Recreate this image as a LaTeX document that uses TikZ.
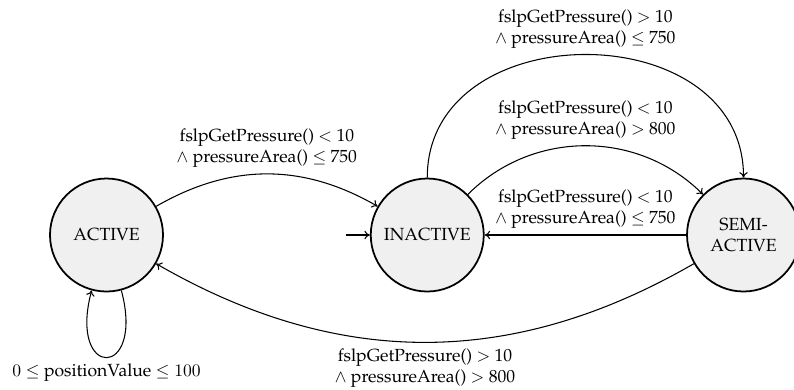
\documentclass[tikz,border=0pt]{standalone}
\usepackage[T1]{fontenc}
\usepackage{palatino}
\usetikzlibrary{positioning, arrows.meta}

\begin{document}
\begin{tikzpicture}[
	>={To[length=1.1mm, width=1.7mm]},
	% Define styles
	statenode/.style={circle, draw=black, fill=black!6, line width=1pt, minimum size=2.26cm, inner sep=0pt, align=center},
	trans/.style={->, semithick},
	guard/.style={align=center}
	]
	
	\useasboundingbox (0,0) rectangle (15.88,-7.78);
	
	% 1. States
	\node[statenode] (active) at (2.13,-4.70) {ACTIVE};
	\node[statenode, right=4.12cm of active] (inactive) {INACTIVE};
	\node[statenode, right=4.03cm of inactive] (semi) {SEMI-\\ACTIVE};
	
	% Initial arrow
	\coordinate[left=0.48cm of inactive] (start);
	\draw[trans] (start) -- (inactive);
	
	% 2. Transitions
	\draw[trans] (active) to[bend left=30] node[guard, above] {fslpGetPressure() $<$ 10\\$\wedge$ pressureArea() $\leq$ 750} (inactive);
	\draw[trans] (inactive) to[out=90, in=90, looseness=1.33] node[guard, above] {fslpGetPressure() $>$ 10\\$\wedge$ pressureArea() $\leq$ 750} (semi);
	\draw[trans] (inactive) to[bend left=45] node[guard, above] {fslpGetPressure() $<$ 10\\$\wedge$ pressureArea() $>$ 800} (semi);
	\draw[trans] (semi) -- node[guard, above] {fslpGetPressure() $<$ 10\\$\wedge$ pressureArea() $\leq$ 750} (inactive);
	\draw[trans] (semi) to[bend left=30] node[guard, below] {fslpGetPressure() $>$ 10\\$\wedge$ pressureArea() $>$ 800} (active);
	
	% Self loop
	\draw[trans] (active) to[loop below] node[below] {$0 \leq$ positionValue $\leq 100$} (active);
\end{tikzpicture}
\end{document}
